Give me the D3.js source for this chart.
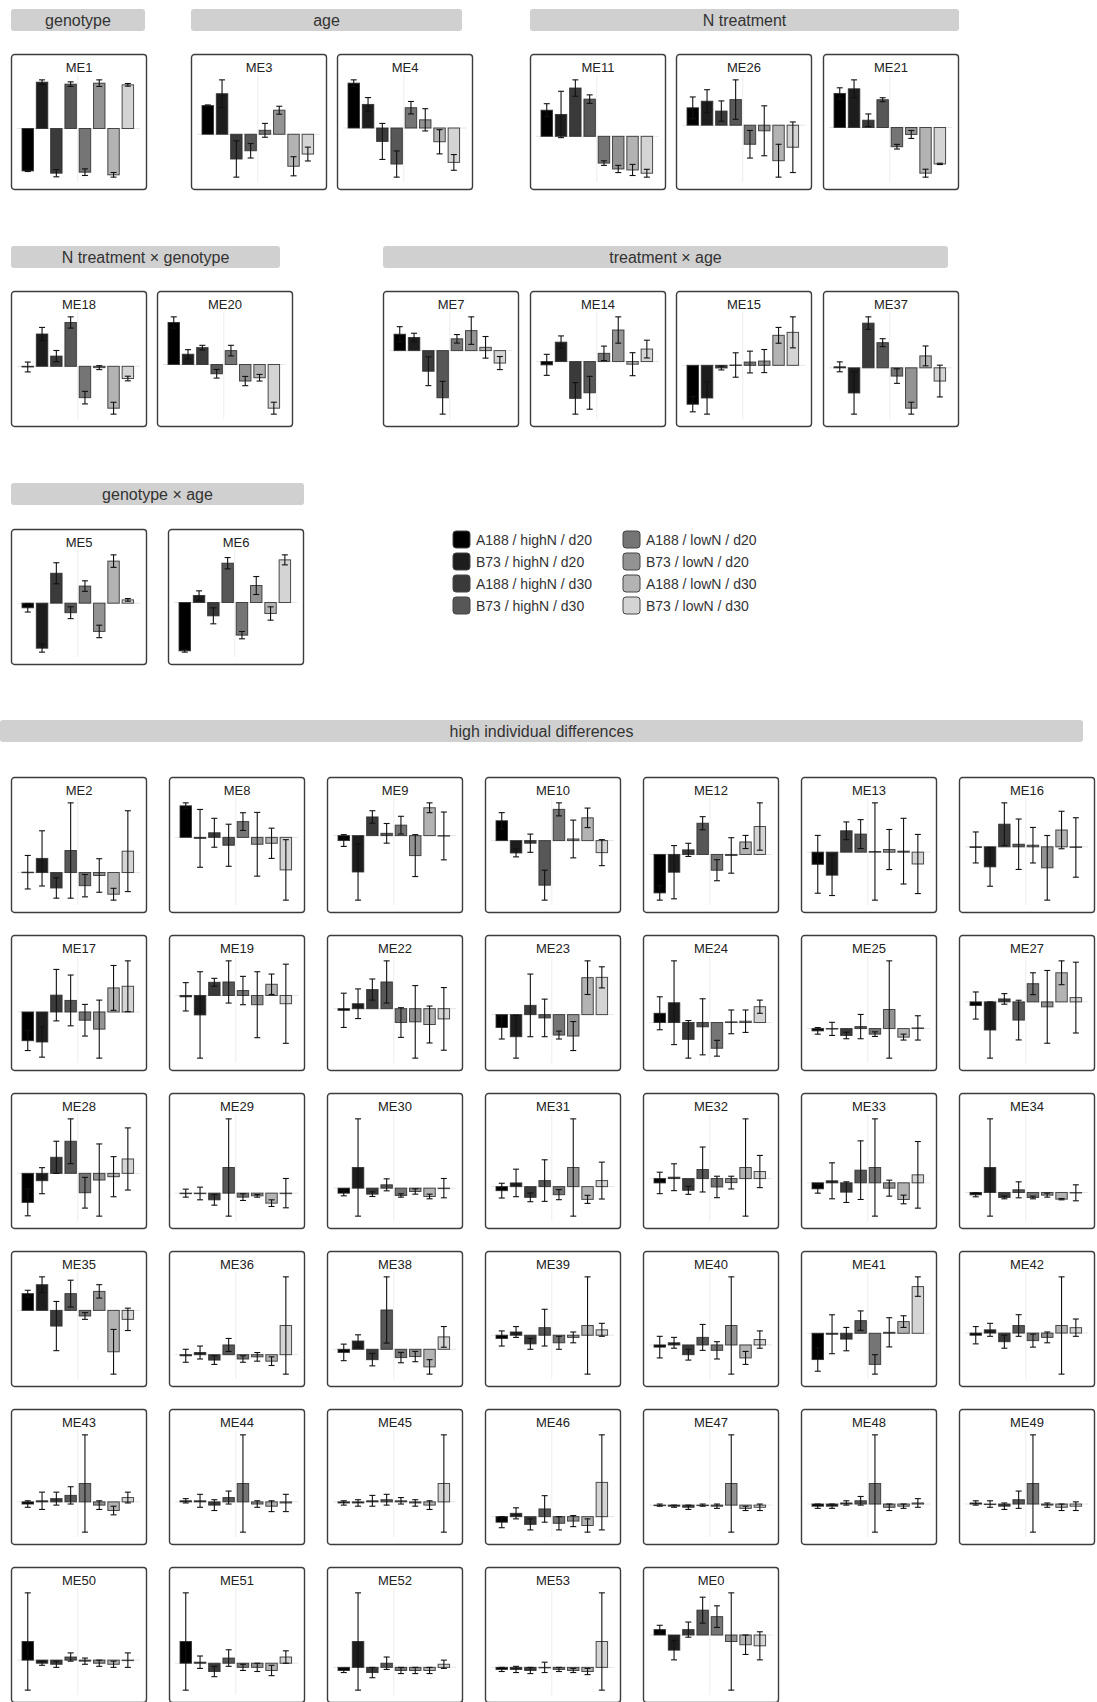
<!DOCTYPE html>
<html><head><meta charset="utf-8">
<script src="https://cdn.jsdelivr.net/npm/d3@7"></script>
<style>
body{margin:0;background:#fff;}
svg{display:block;font-family:"Liberation Sans",Arial,Helvetica,sans-serif;}
</style>
</head><body>
<svg id="chart" width="1097" height="1702"></svg>
<script>
// ---------- DATA ----------
const groups = ["A188 / highN / d20","B73 / highN / d20","A188 / highN / d30","B73 / highN / d30",
                "A188 / lowN / d20","B73 / lowN / d20","A188 / lowN / d30","B73 / lowN / d30"];
const sectionTitles = ["genotype","age","N treatment","N treatment \u00d7 genotype","treatment \u00d7 age","genotype \u00d7 age","high individual differences"];
const sectionModules = [
  ["ME1"],
  ["ME3","ME4"],
  ["ME11","ME26","ME21"],
  ["ME18","ME20"],
  ["ME7","ME14","ME15","ME37"],
  ["ME5","ME6"],
  ["ME2","ME8","ME9","ME10","ME12","ME13","ME16",
   "ME17","ME19","ME22","ME23","ME24","ME25","ME27",
   "ME28","ME29","ME30","ME31","ME32","ME33","ME34",
   "ME35","ME36","ME38","ME39","ME40","ME41","ME42",
   "ME43","ME44","ME45","ME46","ME47","ME48","ME49",
   "ME50","ME51","ME52","ME53","ME0"]
];

// module means (relative units) and standard errors, in group order
const ME1_mean  = [-128,140,-135,134,-132,137,-140,132];  const ME1_err  = [2,7,11,7,10,10,7,4];
const ME3_mean  = [87,123,-75,-50,12,73,-97,-60];        const ME3_err  = [2,42,55,22,21,12,29,21];
const ME4_mean  = [137,72,-41,-110,62,25,-42,-105];      const ME4_err  = [10,21,55,40,19,34,37,24];
const ME11_mean = [80,67,148,114,-82,-100,-103,-113];    const ME11_err = [20,71,25,13,7,11,17,12];
const ME26_mean = [53,73,43,78,-58,-17,-108,-67];        const ME26_err = [33,35,31,60,42,76,50,77];
const ME21_mean = [103,117,22,84,-58,-21,-138,-110];     const ME21_err = [17,27,19,6,7,12,12,2];
const ME18_mean = [-2,98,31,133,-95,-4,-127,-37];        const ME18_err = [15,20,17,17,19,6,18,7];
const ME20_mean = [127,31,51,-28,42,-50,-40,-132];       const ME20_err = [17,14,7,13,16,14,10,18];
const ME7_mean  = [50,40,-63,-144,36,61,10,-38];         const ME7_err  = [23,13,44,50,13,42,33,20];
const ME14_mean = [-10,59,-112,-95,25,96,-8,38];         const ME14_err = [32,19,48,50,22,40,35,27];
const ME15_mean = [-118,-99,-8,1,10,13,91,100];          const ME15_err = [23,49,6,37,33,35,24,47];
const ME37_mean = [3,-76,135,76,-25,-122,36,-40];        const ME37_err = [15,64,19,12,22,18,30,48];
const ME5_mean  = [-14,-137,91,-29,52,-86,128,10];       const ME5_err  = [13,12,32,18,16,19,19,4];
const ME6_mean  = [-145,21,-40,118,-98,51,-33,128];      const ME6_err  = [4,14,24,17,11,27,20,15];
const ME2_mean  = [1,43,-47,67,-40,-9,-66,65];           const ME2_err  = [51,84,31,145,34,51,18,123];
const ME8_mean  = [96,-3,14,-24,48,-21,-18,-99];         const ME8_err  = [9,88,44,64,27,97,46,92];
const ME9_mean  = [-15,-111,57,7,32,-61,85,-1];          const ME9_err  = [18,86,19,30,27,64,15,73];
const ME10_mean = [61,-38,-8,-137,96,5,70,-37];          const ME10_err = [25,12,28,46,20,58,30,40];
const ME12_mean = [-117,-54,14,95,-48,-3,38,85];         const ME12_err = [22,81,20,20,32,54,20,72];
const ME13_mean = [-37,-70,65,55,2,8,3,-36];             const ME13_err = [88,62,27,44,148,61,100,90];
const ME16_mean = [-2,-62,70,8,5,-65,52,-2];             const ME16_err = [48,60,66,78,55,100,58,92];
const ME17_mean = [-87,-91,51,35,-25,-52,73,78];         const ME17_err = [30,46,78,77,48,88,68,77];
const ME19_mean = [-4,-59,40,41,15,-28,34,-25];          const ME19_err = [43,131,12,64,43,100,31,120];
const ME22_mean = [-5,15,58,81,-42,-40,-48,-31];         const ME22_err = [52,45,32,64,45,110,56,95];
const ME23_mean = [-39,-67,28,-10,-62,-65,112,113];      const ME23_err = [35,65,95,57,12,44,51,32];
const ME24_mean = [28,60,-51,-13,-78,2,4,48];            const ME24_err = [50,127,57,85,24,36,34,20];
const ME25_mean = [-7,-1,-21,6,-17,58,-26,2];            const ME25_err = [10,20,10,37,7,148,9,37];
const ME27_mean = [-11,-85,9,-55,55,-15,88,13];          const ME27_err = [41,85,16,60,33,110,36,107];
const ME28_mean = [-87,-22,48,96,-58,-20,-10,43];        const ME28_err = [40,39,48,67,46,108,60,93];
const ME29_mean = [0,-1,-20,77,-12,-8,-30,0];            const ME29_err = [12,19,16,146,10,4,10,44];
const ME30_mean = [-15,62,-18,10,-22,-10,-25,0];         const ME30_err = [8,146,7,18,5,8,7,29];
const ME31_mean = [-12,11,-32,18,-24,57,-38,18];         const ME31_err = [22,41,13,62,15,145,12,55];
const ME32_mean = [-13,4,-35,27,-25,-12,33,21];          const ME32_err = [32,40,12,67,32,19,145,48];
const ME33_mean = [-18,6,-28,38,46,-16,-50,24];          const ME33_err = [13,54,31,88,146,24,13,100];
const ME34_mean = [-7,75,-15,8,-15,-8,-20,-1];           const ME34_err = [6,146,4,24,4,6,2,24];
const ME35_mean = [15,23,-14,15,-5,17,-37,-8];           const ME35_err = [3,7,22,12,3,6,20,10];
const ME36_mean = [-1,2,-5,9,-4,-2,-6,27];               const ME36_err = [6,6,4,6,3,4,4,45];
const ME38_mean = [-3,8,-10,38,-8,-7,-17,12];            const ME38_err = [8,6,6,32,5,5,7,10];
const ME39_mean = [-3,3,-8,7,-7,-2,9,5];                 const ME39_err = [7,5,5,17,6,5,45,6];
const ME40_mean = [-2,2,-9,7,-5,18,-12,5];               const ME40_err = [10,5,5,12,8,45,6,8];
const ME41_mean = [-27,-1,-6,13,-32,1,12,48];            const ME41_err = [12,20,12,10,10,15,6,10];
const ME42_mean = [-2,3,-8,7,-7,-4,7,5];                 const ME42_err = [8,6,6,10,6,5,45,8];
const ME43_mean = [-2,1,3,6,17,-3,-8,4];                 const ME43_err = [3,8,6,8,45,4,4,5];
const ME44_mean = [1,1,-3,4,17,-2,-4,-1];                const ME44_err = [2,6,5,6,45,3,5,8];
const ME45_mean = [-1,-1,1,2,1,-1,-3,17];                const ME45_err = [2,3,5,5,3,3,4,45];
const ME46_mean = [-5,3,-7,7,-6,-4,-8,31];               const ME46_err = [5,5,5,12,6,5,6,43];
const ME47_mean = [0,-1,-2,0,-1,20,-3,-2];               const ME47_err = [1,1,2,1,2,45,2,3];
const ME48_mean = [-2,-2,1,3,19,-3,-2,1];                const ME48_err = [2,2,2,4,45,3,2,4];
const ME49_mean = [1,0,-2,4,19,-1,-3,-2];                const ME49_err = [2,3,3,8,45,2,3,4];
const ME50_mean = [18,-3,-4,3,-1,-3,-4,0];               const ME50_err = [47,2,3,4,3,3,3,7];
const ME51_mean = [21,1,-8,5,-4,-4,-7,6];                const ME51_err = [47,6,5,8,3,4,5,6];
const ME52_mean = [-3,25,-5,4,-3,-3,-3,3];               const ME52_err = [2,47,5,6,3,3,3,4];
const ME53_mean = [-2,-2,-3,0,-2,-3,-4,25];              const ME53_err = [2,3,3,5,2,2,3,47];
const ME0_mean  = [5,-14,5,23,17,-6,-9,-10];             const ME0_err  = [4,9,7,12,10,45,9,13];

const meanData = {ME1:ME1_mean,ME3:ME3_mean,ME4:ME4_mean,ME11:ME11_mean,ME26:ME26_mean,ME21:ME21_mean,
  ME18:ME18_mean,ME20:ME20_mean,ME7:ME7_mean,ME14:ME14_mean,ME15:ME15_mean,ME37:ME37_mean,ME5:ME5_mean,ME6:ME6_mean,
  ME2:ME2_mean,ME8:ME8_mean,ME9:ME9_mean,ME10:ME10_mean,ME12:ME12_mean,ME13:ME13_mean,ME16:ME16_mean,
  ME17:ME17_mean,ME19:ME19_mean,ME22:ME22_mean,ME23:ME23_mean,ME24:ME24_mean,ME25:ME25_mean,ME27:ME27_mean,
  ME28:ME28_mean,ME29:ME29_mean,ME30:ME30_mean,ME31:ME31_mean,ME32:ME32_mean,ME33:ME33_mean,ME34:ME34_mean,
  ME35:ME35_mean,ME36:ME36_mean,ME38:ME38_mean,ME39:ME39_mean,ME40:ME40_mean,ME41:ME41_mean,ME42:ME42_mean,
  ME43:ME43_mean,ME44:ME44_mean,ME45:ME45_mean,ME46:ME46_mean,ME47:ME47_mean,ME48:ME48_mean,ME49:ME49_mean,
  ME50:ME50_mean,ME51:ME51_mean,ME52:ME52_mean,ME53:ME53_mean,ME0:ME0_mean};
const errData = {ME1:ME1_err,ME3:ME3_err,ME4:ME4_err,ME11:ME11_err,ME26:ME26_err,ME21:ME21_err,
  ME18:ME18_err,ME20:ME20_err,ME7:ME7_err,ME14:ME14_err,ME15:ME15_err,ME37:ME37_err,ME5:ME5_err,ME6:ME6_err,
  ME2:ME2_err,ME8:ME8_err,ME9:ME9_err,ME10:ME10_err,ME12:ME12_err,ME13:ME13_err,ME16:ME16_err,
  ME17:ME17_err,ME19:ME19_err,ME22:ME22_err,ME23:ME23_err,ME24:ME24_err,ME25:ME25_err,ME27:ME27_err,
  ME28:ME28_err,ME29:ME29_err,ME30:ME30_err,ME31:ME31_err,ME32:ME32_err,ME33:ME33_err,ME34:ME34_err,
  ME35:ME35_err,ME36:ME36_err,ME38:ME38_err,ME39:ME39_err,ME40:ME40_err,ME41:ME41_err,ME42:ME42_err,
  ME43:ME43_err,ME44:ME44_err,ME45:ME45_err,ME46:ME46_err,ME47:ME47_err,ME48:ME48_err,ME49:ME49_err,
  ME50:ME50_err,ME51:ME51_err,ME52:ME52_err,ME53:ME53_err,ME0:ME0_err};

// ---------- STYLE / LAYOUT ----------
const colors = ["#000000","#1d1d1d","#3a3a3a","#575757","#757575","#939393","#b3b3b3","#d4d4d4"];
const PW = 136, PH = 136;
// header boxes [x, y, w] and panel origins per section
const layout = [
  {hx:11,  hy:9,   hw:134, panels:[[11,54]]},
  {hx:191, hy:9,   hw:271, panels:[[191,54],[337,54]]},
  {hx:530, hy:9,   hw:429, panels:[[530,54],[676,54],[823,54]]},
  {hx:11,  hy:246, hw:269, panels:[[11,291],[157,291]]},
  {hx:383, hy:246, hw:565, panels:[[383,291],[530,291],[676,291],[823,291]]},
  {hx:11,  hy:483, hw:293, panels:[[11,529],[168,529]]},
  {hx:0,   hy:720, hw:1083, grid:{x0:11, y0:777, step:158, cols:7}}
];

const svg = d3.select("#chart");

// shared scales
const x = d3.scaleBand().domain(groups).range([9.6,124]).paddingInner(0.2).paddingOuter(0.1);
const color = d3.scaleOrdinal().domain(groups).range(colors);
const plotTop = 21, plotBottom = 128, plotLeft = 6, plotRight = 129;

function drawPanel(name, px, py){
  const mean = meanData[name], err = errData[name];
  const rows = groups.map((g,i)=>({g, m:mean[i], e:err[i]}));
  const lo = d3.min(rows, d=>Math.min(0, d.m - d.e));
  const hi = d3.max(rows, d=>Math.max(0, d.m + d.e));
  const pad = (hi - lo) * 0.05;
  const y = d3.scaleLinear().domain([lo - pad, hi + pad]).range([plotBottom, plotTop]);

  const g = svg.append("g").attr("transform",`translate(${px},${py})`);
  g.append("rect").attr("x",0.5).attr("y",0.5).attr("width",PW-1).attr("height",PH-1)
    .attr("rx",3).attr("fill","#fff").attr("stroke","#3c3c3c").attr("stroke-width",1.4);
  g.append("text").attr("x",PW/2).attr("y",18).attr("text-anchor","middle")
    .attr("font-size",13).attr("fill","#222").text(name);

  const mid = (x.range()[0] + x.range()[1]) / 2;
  g.append("line").attr("x1",mid).attr("x2",mid).attr("y1",plotTop).attr("y2",plotBottom)
    .attr("stroke","#ededed").attr("stroke-width",1);
  g.append("line").attr("x1",plotLeft).attr("x2",plotRight).attr("y1",y(0)).attr("y2",y(0))
    .attr("stroke","#e6e6e6").attr("stroke-width",1);

  g.selectAll("rect.bar").data(rows).join("rect").attr("class","bar")
    .attr("x",d=>x(d.g)).attr("width",x.bandwidth())
    .attr("y",d=>Math.min(y(d.m),y(0))).attr("height",d=>Math.max(0.5,Math.abs(y(d.m)-y(0))))
    .attr("fill",d=>color(d.g)).attr("stroke","#2e2e2e").attr("stroke-opacity",0.85).attr("stroke-width",1);

  const eb = g.selectAll("g.eb").data(rows).join("g").attr("class","eb")
    .attr("stroke","#111").attr("stroke-width",1.1);
  const cx = d=>x(d.g)+x.bandwidth()/2;
  eb.append("line").attr("x1",cx).attr("x2",cx).attr("y1",d=>y(d.m+d.e)).attr("y2",d=>y(d.m-d.e));
  eb.append("line").attr("x1",d=>cx(d)-3).attr("x2",d=>cx(d)+3).attr("y1",d=>y(d.m+d.e)).attr("y2",d=>y(d.m+d.e));
  eb.append("line").attr("x1",d=>cx(d)-3).attr("x2",d=>cx(d)+3).attr("y1",d=>y(d.m-d.e)).attr("y2",d=>y(d.m-d.e));
}

layout.forEach((L,si)=>{
  svg.append("rect").attr("x",L.hx).attr("y",L.hy).attr("width",L.hw).attr("height",22)
    .attr("rx",3).attr("fill","#d0d0d0");
  svg.append("text").attr("x",L.hx+L.hw/2).attr("y",L.hy+16.5).attr("text-anchor","middle")
    .attr("font-size",16).attr("fill","#333").text(sectionTitles[si]);
  const mods = sectionModules[si];
  mods.forEach((m,i)=>{
    let px, py;
    if (L.grid){ px = L.grid.x0 + (i % L.grid.cols)*L.grid.step; py = L.grid.y0 + Math.floor(i / L.grid.cols)*L.grid.step; }
    else { [px,py] = L.panels[i]; }
    drawPanel(m, px, py);
  });
});

// legend
const leg = svg.append("g");
groups.forEach((gname,i)=>{
  const col = Math.floor(i/4), row = i%4;
  const lx = col ? 623 : 453, ly = 531 + row*22;
  leg.append("rect").attr("x",lx).attr("y",ly).attr("width",17).attr("height",17).attr("rx",3)
    .attr("fill",color(gname)).attr("stroke","#444").attr("stroke-width",1);
  leg.append("text").attr("x",lx+23).attr("y",ly+13.5).attr("font-size",14).attr("fill","#333").text(gname);
});
</script>
</body></html>
